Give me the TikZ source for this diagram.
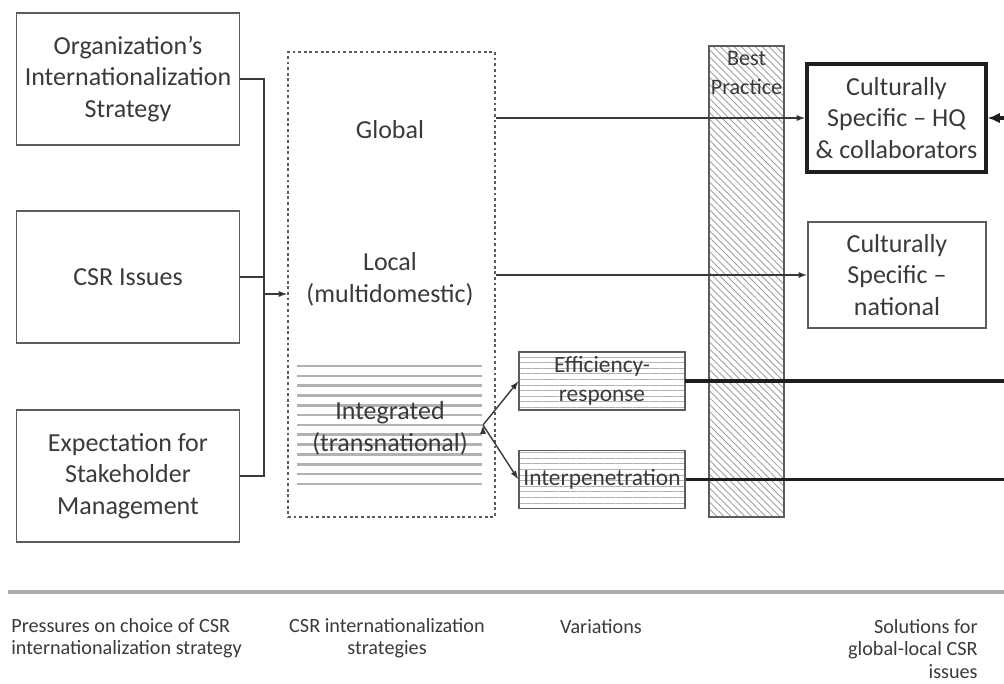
\documentclass[tikz,border=0pt]{standalone}
\usepackage{fontspec}
\setmainfont{Carlito}
\usetikzlibrary{arrows.meta,patterns.meta,positioning}
\definecolor{ink}{HTML}{3A3A3A}
\definecolor{rim}{HTML}{5C5C5C}
\definecolor{heavy}{HTML}{1E1E1E}

\begin{document}
\begin{tikzpicture}[x=0.02cm, y=-0.02cm,
   >={Latex[length=5pt,width=3.5pt]},
   txt/.style={text=ink, align=center, inner sep=0pt, font=\fontsize{14.8}{18}\selectfont},
   small/.style={text=ink, inner sep=0pt, font=\fontsize{11.5}{12.8}\selectfont},
   pressure/.style={txt, draw=rim, line width=0.8pt, minimum width=4.46cm, minimum height=2.64cm},
   variation/.style={txt, draw=rim, line width=0.8pt, minimum width=3.32cm, minimum height=1.16cm,
      font=\fontsize{13.3}{16.4}\selectfont,
      pattern={Lines[angle=0,distance=3.2pt,line width=0.45pt]}, pattern color=gray!60},
   solution/.style={txt, draw=rim, line width=0.8pt, minimum width=3.56cm, minimum height=2.12cm},
   wire/.style={draw=ink, line width=0.8pt},
   thick wire/.style={draw=heavy, line width=1.8pt},
   band/.style={draw=gray!60, line width=1.5pt}]
   \useasboundingbox (0,0) rectangle (1004,683);

   %pressures
   \node[pressure] (org) at (128,79) {Organization’s\\Internationalization\\Strategy};
   \node[pressure] (csr) at (128,277) {CSR Issues};
   \node[pressure] (stake) at (128,476) {Expectation for\\Stakeholder\\Management};
   \coordinate (join) at (264,294);

   %strategies
   \node[draw=rim, line width=0.7pt, dash pattern=on 1.6pt off 1.6pt,
         minimum width=4.14cm, minimum height=9.30cm] (strat) at (391.5,284.5) {};
   \node[txt] (glob) at (390,130) {Global};
   \node[txt] (loc) at (390,279) {Local\\(multidomestic)};
   \foreach \k in {0,...,12}
      \draw[band] (297,{366+9.83*\k}) -- (482,{366+9.83*\k});
   \node[txt] (intg) at (390,428) {Integrated\\(transnational)};
   \coordinate (fork) at (483,425);

   %variations
   \node[variation] (eff) at (602,381) {Efficiency-\\response};
   \node[variation] (inter) at (602,479.5) {Interpenetration};

   %best practice
   \node[draw=rim, line width=0.7pt, minimum width=1.50cm, minimum height=9.42cm,
         pattern={Lines[angle=-45,distance=2.8pt,line width=0.5pt]}, pattern color=gray!75] (best) at (746.5,281.5) {};
   \node[txt, font=\fontsize{12.6}{16.4}\selectfont] (bestlbl) at (746.5,73) {Best\\Practice};

   %solutions
   \node[solution, draw=heavy, line width=1.8pt, minimum width=3.58cm, minimum height=2.16cm] (hq) at (896.5,118)
        {Culturally\\Specific – HQ\\\& collaborators};
   \node[solution] (nat) at (897,275) {Culturally\\Specific –\\national};
   \coordinate (hqsrc) at (1012,118);
   \coordinate (effend) at (1012,381);
   \coordinate (interend) at (1012,479.5);

   %bottom captions
   \draw[draw=gray!65, line width=2.4pt] (8,592) -- (1012,592);
   \node[small, align=left, anchor=west] (capa) at (11,638) {Pressures on choice of CSR\\internationalization strategy};
   \node[small, align=center] (capb) at (387,638) {CSR internationalization\\strategies};
   \node[small] (capc) at (601,627) {Variations};
   \node[small, align=right, anchor=east] (capd) at (978,649) {Solutions for\\global-local CSR\\issues};

   \draw[wire] (org.east) -| (join) |- (stake.east);
   \draw[wire] (csr.east) -- (csr.east -| join);
   \draw[thick wire] (eff.east) -- (effend);
   \draw[thick wire] (inter.east) -- (interend);
   \draw[thick wire, -{Latex[length=7pt,width=6pt]}] (hqsrc) -- (hq.east);

  \path[->, wire]
    (join) edge node {} (join -| strat.west)
    (strat.east |- hq.west) edge node {} (hq.west)
    (strat.east |- nat.west) edge node {} (nat.west)
    (fork) edge node {} (eff.west)
           edge node {} (inter.west);
\end{tikzpicture}
\end{document}
